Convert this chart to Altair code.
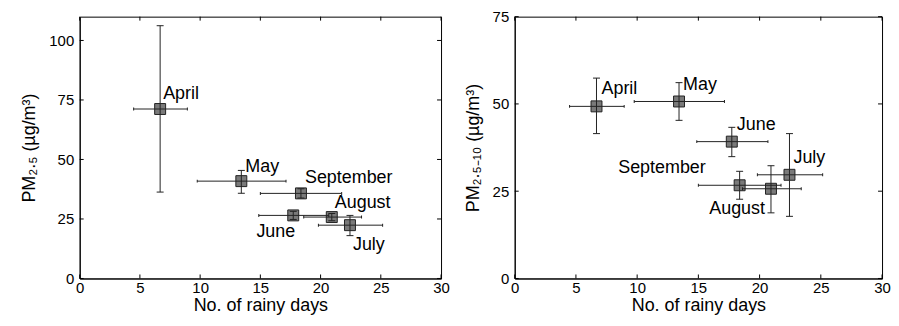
import altair as alt
import pandas as pd

months = ["April", "May", "June", "July", "August", "September"]
rainy_days = [6.68, 13.42, 17.73, 22.44, 20.93, 18.37]
rainy_lo = [4.48, 9.76, 14.87, 19.82, 18.6, 15.0]
rainy_hi = [8.94, 17.13, 20.68, 25.15, 23.4, 21.75]

pm25 = [71.2, 40.9, 26.5, 22.4, 25.8, 35.75]
pm25_lo = [36.3, 35.8, 24.8, 18.0, 24.3, 33.8]
pm25_hi = [106.2, 45.4, 28.2, 26.5, 27.3, 37.7]

pm2510 = [49.3, 50.7, 39.2, 29.7, 25.7, 26.7]
pm2510_lo = [41.5, 45.3, 34.9, 17.8, 18.8, 22.7]
pm2510_hi = [57.4, 56.1, 43.3, 41.5, 32.3, 30.7]

x_ticks = [0, 5, 10, 15, 20, 25, 30]
y_ticks_left = [0, 25, 50, 75, 100]
y_ticks_right = [0, 25, 50, 75]

# label placement (dx, dy, align) per month, styling only
left_label_pos = {
    "April": (3, -10, "left"), "May": (4, -9, "left"), "September": (4, -10, "left"),
    "August": (3, -9, "left"), "June": (2, 22, "right"), "July": (3, 25, "left"),
}
right_label_pos = {
    "April": (5, -12, "left"), "May": (4, -12, "left"), "June": (5, -12, "left"),
    "July": (4, -12, "left"), "September": (-34, -12, "right"), "August": (-6, 25, "right"),
}

FONT = "Arial"
INK = "#222222"
TICK_LEN = 4
H = 263


def panel(yv, ylo, yhi, ydomain, yticks, ytitle, label_pos, width, height):
    df = pd.DataFrame({"month": months, "x": rainy_days, "xlo": rainy_lo, "xhi": rainy_hi,
                       "y": yv, "ylo": ylo, "yhi": yhi})
    xs = alt.Scale(domain=[0, 30], nice=False)
    ys = alt.Scale(domain=ydomain, nice=False)
    xaxis = alt.Axis(values=x_ticks, ticks=False, grid=False, labelPadding=2.5, titlePadding=0.5,
                     labelFlush=False, labelOverlap=False)
    yaxis = alt.Axis(values=yticks, ticks=False, grid=False, labelPadding=6, titlePadding=10,
                     labelFlush=False, labelOverlap=False)

    def X(f):
        return alt.X(f, scale=xs, title="No. of rainy days", axis=xaxis)

    def Y(f):
        return alt.Y(f, scale=ys, title=ytitle, axis=yaxis)

    base = alt.Chart(df)

    squares = base.mark_square(size=121, fill="#7a7a7a", stroke=INK, strokeWidth=1, opacity=1).encode(
        x=X("x:Q"), y=Y("y:Q"))
    hbar = base.mark_rule(color=INK, strokeWidth=1).encode(x=X("xlo:Q"), x2="xhi:Q", y=Y("y:Q"))
    vbar = base.mark_rule(color=INK, strokeWidth=1).encode(x=X("x:Q"), y=Y("ylo:Q"), y2="yhi:Q")
    vcap_lo = base.mark_tick(orient="horizontal", size=7, thickness=1, color=INK, opacity=1).encode(
        x=X("x:Q"), y=Y("ylo:Q"))
    vcap_hi = base.mark_tick(orient="horizontal", size=7, thickness=1, color=INK, opacity=1).encode(
        x=X("x:Q"), y=Y("yhi:Q"))
    hcap_lo = base.mark_tick(orient="vertical", size=3, thickness=1, color=INK, opacity=1).encode(
        x=X("xlo:Q"), y=Y("y:Q"))
    hcap_hi = base.mark_tick(orient="vertical", size=3, thickness=1, color=INK, opacity=1).encode(
        x=X("xhi:Q"), y=Y("y:Q"))

    labels = []
    for m in months:
        dx, dy, al = label_pos[m]
        labels.append(
            base.transform_filter(alt.datum.month == m).mark_text(
                dx=dx, dy=dy, align=al, baseline="alphabetic", font=FONT, fontSize=18,
                color="black").encode(x=X("x:Q"), y=Y("y:Q"), text="month:N"))

    xt = alt.Chart(pd.DataFrame({"t": x_ticks}))
    yt = alt.Chart(pd.DataFrame({"t": yticks}))
    tick_layers = [
        xt.mark_rule(color="black").encode(x=X("t:Q"), y=alt.value(height),
                                           y2=alt.value(height - TICK_LEN)),
        xt.mark_rule(color="black").encode(x=X("t:Q"), y=alt.value(0), y2=alt.value(TICK_LEN)),
        yt.mark_rule(color="black").encode(y=Y("t:Q"), x=alt.value(0), x2=alt.value(TICK_LEN)),
        yt.mark_rule(color="black").encode(y=Y("t:Q"), x=alt.value(width),
                                           x2=alt.value(width - TICK_LEN)),
    ]

    return alt.layer(squares, hbar, vbar, vcap_lo, vcap_hi, hcap_lo, hcap_hi,
                     *labels, *tick_layers).properties(width=width, height=height)


left = panel(pm25, pm25_lo, pm25_hi, [0, 110], y_ticks_left,
             "PM₂.₅ (µg/m³)", left_label_pos, 363, H)
right = panel(pm2510, pm2510_lo, pm2510_hi, [0, 75], y_ticks_right,
              "PM₂.₅₋₁₀ (µg/m³)", right_label_pos, 369, H)

chart = alt.hconcat(left, right, spacing=74, bounds="flush").properties(
    padding={"left": 12, "top": 0, "right": 0, "bottom": 0}, background="white"
).configure_view(stroke="black", strokeWidth=1).configure_axis(
    domainColor="black", domainWidth=1, labelFont=FONT, labelFontSize=15, labelColor="black",
    titleFont=FONT, titleFontSize=18, titleFontWeight="normal", titleColor="black"
)

chart.save("out.html", embed_options={"renderer": "svg", "actions": False})
